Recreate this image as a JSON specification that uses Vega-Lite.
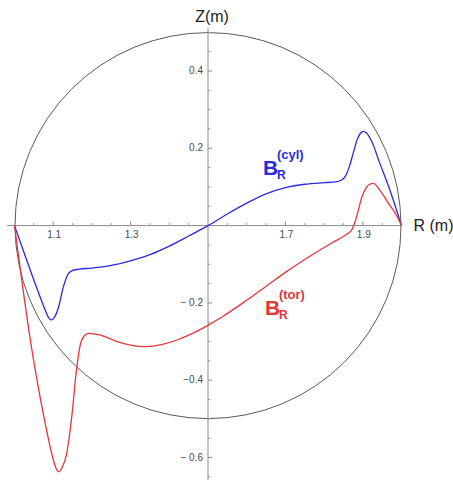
{
  "$schema": "https://vega.github.io/schema/vega-lite/v6.json",
  "width": 453,
  "height": 480,
  "autosize": "none",
  "padding": 0,
  "background": "white",
  "config": {"view": {"stroke": null}, "font": "Liberation Sans"},
  "datasets": {
    "curves": [
      {"series": "cyl", "R": 1.000, "Z": 0.000},
      {"series": "cyl", "R": 1.030, "Z": -0.085},
      {"series": "cyl", "R": 1.060, "Z": -0.168},
      {"series": "cyl", "R": 1.079, "Z": -0.218},
      {"series": "cyl", "R": 1.087, "Z": -0.236},
      {"series": "cyl", "R": 1.095, "Z": -0.244},
      {"series": "cyl", "R": 1.104, "Z": -0.236},
      {"series": "cyl", "R": 1.113, "Z": -0.214},
      {"series": "cyl", "R": 1.126, "Z": -0.160},
      {"series": "cyl", "R": 1.137, "Z": -0.128},
      {"series": "cyl", "R": 1.148, "Z": -0.117},
      {"series": "cyl", "R": 1.165, "Z": -0.113},
      {"series": "cyl", "R": 1.200, "Z": -0.110},
      {"series": "cyl", "R": 1.250, "Z": -0.103},
      {"series": "cyl", "R": 1.300, "Z": -0.091},
      {"series": "cyl", "R": 1.350, "Z": -0.075},
      {"series": "cyl", "R": 1.400, "Z": -0.053},
      {"series": "cyl", "R": 1.450, "Z": -0.027},
      {"series": "cyl", "R": 1.500, "Z": 0.000},
      {"series": "cyl", "R": 1.550, "Z": 0.030},
      {"series": "cyl", "R": 1.600, "Z": 0.058},
      {"series": "cyl", "R": 1.650, "Z": 0.082},
      {"series": "cyl", "R": 1.700, "Z": 0.098},
      {"series": "cyl", "R": 1.750, "Z": 0.107},
      {"series": "cyl", "R": 1.800, "Z": 0.111},
      {"series": "cyl", "R": 1.830, "Z": 0.113},
      {"series": "cyl", "R": 1.845, "Z": 0.118},
      {"series": "cyl", "R": 1.855, "Z": 0.128},
      {"series": "cyl", "R": 1.865, "Z": 0.152},
      {"series": "cyl", "R": 1.876, "Z": 0.190},
      {"series": "cyl", "R": 1.886, "Z": 0.224},
      {"series": "cyl", "R": 1.894, "Z": 0.239},
      {"series": "cyl", "R": 1.901, "Z": 0.244},
      {"series": "cyl", "R": 1.909, "Z": 0.240},
      {"series": "cyl", "R": 1.922, "Z": 0.220},
      {"series": "cyl", "R": 1.944, "Z": 0.161},
      {"series": "cyl", "R": 1.970, "Z": 0.092},
      {"series": "cyl", "R": 2.000, "Z": 0.000},
      {"series": "tor", "R": 1.000, "Z": 0.000},
      {"series": "tor", "R": 1.020, "Z": -0.150},
      {"series": "tor", "R": 1.040, "Z": -0.290},
      {"series": "tor", "R": 1.060, "Z": -0.410},
      {"series": "tor", "R": 1.080, "Z": -0.515},
      {"series": "tor", "R": 1.095, "Z": -0.585},
      {"series": "tor", "R": 1.105, "Z": -0.622},
      {"series": "tor", "R": 1.114, "Z": -0.637},
      {"series": "tor", "R": 1.123, "Z": -0.626},
      {"series": "tor", "R": 1.135, "Z": -0.589},
      {"series": "tor", "R": 1.148, "Z": -0.494},
      {"series": "tor", "R": 1.160, "Z": -0.375},
      {"series": "tor", "R": 1.168, "Z": -0.318},
      {"series": "tor", "R": 1.177, "Z": -0.290},
      {"series": "tor", "R": 1.192, "Z": -0.279},
      {"series": "tor", "R": 1.220, "Z": -0.283},
      {"series": "tor", "R": 1.260, "Z": -0.298},
      {"series": "tor", "R": 1.300, "Z": -0.309},
      {"series": "tor", "R": 1.336, "Z": -0.313},
      {"series": "tor", "R": 1.380, "Z": -0.308},
      {"series": "tor", "R": 1.420, "Z": -0.296},
      {"series": "tor", "R": 1.460, "Z": -0.279},
      {"series": "tor", "R": 1.500, "Z": -0.258},
      {"series": "tor", "R": 1.540, "Z": -0.234},
      {"series": "tor", "R": 1.580, "Z": -0.207},
      {"series": "tor", "R": 1.620, "Z": -0.179},
      {"series": "tor", "R": 1.660, "Z": -0.150},
      {"series": "tor", "R": 1.700, "Z": -0.121},
      {"series": "tor", "R": 1.740, "Z": -0.094},
      {"series": "tor", "R": 1.780, "Z": -0.069},
      {"series": "tor", "R": 1.820, "Z": -0.045},
      {"series": "tor", "R": 1.860, "Z": -0.021},
      {"series": "tor", "R": 1.872, "Z": -0.010},
      {"series": "tor", "R": 1.880, "Z": 0.010},
      {"series": "tor", "R": 1.888, "Z": 0.038},
      {"series": "tor", "R": 1.897, "Z": 0.072},
      {"series": "tor", "R": 1.908, "Z": 0.097},
      {"series": "tor", "R": 1.918, "Z": 0.107},
      {"series": "tor", "R": 1.927, "Z": 0.109},
      {"series": "tor", "R": 1.944, "Z": 0.092},
      {"series": "tor", "R": 1.966, "Z": 0.058},
      {"series": "tor", "R": 1.988, "Z": 0.025},
      {"series": "tor", "R": 2.000, "Z": 0.000}
    ],
    "rMajor": [{"R": 1.1}, {"R": 1.3}, {"R": 1.7}, {"R": 1.9}],
    "rMinor": [
      {"R": 1.05}, {"R": 1.15}, {"R": 1.2}, {"R": 1.25}, {"R": 1.35}, {"R": 1.4}, {"R": 1.45},
      {"R": 1.55}, {"R": 1.6}, {"R": 1.65}, {"R": 1.75}, {"R": 1.8}, {"R": 1.85}, {"R": 1.95}
    ],
    "zMajor": [
      {"Z": 0.4, "label": "0.4"}, {"Z": 0.2, "label": "0.2"}, {"Z": -0.2, "label": "− 0.2"},
      {"Z": -0.4, "label": "−0.4"}, {"Z": -0.6, "label": "− 0.6"}
    ],
    "zMinor": [
      {"Z": 0.5}, {"Z": 0.45}, {"Z": 0.35}, {"Z": 0.3}, {"Z": 0.25}, {"Z": 0.15}, {"Z": 0.1}, {"Z": 0.05},
      {"Z": -0.05}, {"Z": -0.1}, {"Z": -0.15}, {"Z": -0.25}, {"Z": -0.3}, {"Z": -0.35},
      {"Z": -0.45}, {"Z": -0.5}, {"Z": -0.55}, {"Z": -0.65}
    ],
    "seriesLabels": [
      {"series": "cyl", "sup": "(cyl)", "R": 1.642, "Z": 0.131},
      {"series": "tor", "sup": "(tor)", "R": 1.647, "Z": -0.231}
    ]
  },
  "layer": [
    {
      "description": "bounding circle of radius 0.5 m around R = 1.5 m",
      "data": {"values": [{"R": 1.5, "Z": 0}]},
      "mark": {"type": "point", "shape": "circle", "filled": false, "size": 149000, "stroke": "#5a5a5a", "strokeWidth": 1, "opacity": 1},
      "encoding": {
        "x": {"field": "R", "type": "quantitative", "scale": {"domain": [0.96253, 2.13307], "nice": false, "zero": false}, "axis": null},
        "y": {"field": "Z", "type": "quantitative", "scale": {"domain": [-0.6582, 0.5837], "nice": false, "zero": false}, "axis": null}
      }
    },
    {
      "description": "R axis line",
      "data": {"values": [{}]},
      "mark": {"type": "rule", "stroke": "#8a8a8a", "strokeWidth": 1},
      "encoding": {"x": {"datum": 0.981}, "x2": {"datum": 2.0}, "y": {"datum": 0}}
    },
    {
      "description": "Z axis line",
      "data": {"values": [{}]},
      "mark": {"type": "rule", "stroke": "#8a8a8a", "strokeWidth": 1},
      "encoding": {"x": {"datum": 1.5}, "y": {"datum": -0.658}, "y2": {"datum": 0.511}}
    },
    {
      "data": {"name": "rMajor"},
      "mark": {"type": "tick", "orient": "vertical", "size": 4, "thickness": 1, "yOffset": -2, "color": "#8a8a8a", "opacity": 1},
      "encoding": {"x": {"field": "R", "type": "quantitative"}, "y": {"datum": 0}}
    },
    {
      "data": {"name": "rMinor"},
      "mark": {"type": "tick", "orient": "vertical", "size": 2.5, "thickness": 1, "yOffset": -1.25, "color": "#9a9a9a", "opacity": 1},
      "encoding": {"x": {"field": "R", "type": "quantitative"}, "y": {"datum": 0}}
    },
    {
      "data": {"name": "zMajor"},
      "mark": {"type": "tick", "orient": "horizontal", "size": 4, "thickness": 1, "xOffset": 2, "color": "#8a8a8a", "opacity": 1},
      "encoding": {"y": {"field": "Z", "type": "quantitative"}, "x": {"datum": 1.5}}
    },
    {
      "data": {"name": "zMinor"},
      "mark": {"type": "tick", "orient": "horizontal", "size": 2.5, "thickness": 1, "xOffset": 1.25, "color": "#9a9a9a", "opacity": 1},
      "encoding": {"y": {"field": "Z", "type": "quantitative"}, "x": {"datum": 1.5}}
    },
    {
      "data": {"name": "rMajor"},
      "mark": {"type": "text", "align": "center", "baseline": "middle", "dy": 9, "dx": 1, "fontSize": 10, "color": "#4a4a4a"},
      "encoding": {"x": {"field": "R", "type": "quantitative"}, "y": {"datum": 0}, "text": {"field": "R", "type": "quantitative", "format": ".1f"}}
    },
    {
      "data": {"name": "zMajor"},
      "mark": {"type": "text", "align": "right", "baseline": "middle", "dx": -5, "fontSize": 10, "color": "#4a4a4a"},
      "encoding": {"y": {"field": "Z", "type": "quantitative"}, "x": {"datum": 1.5}, "text": {"field": "label"}}
    },
    {
      "data": {"values": [{"title": "Z(m)"}]},
      "mark": {"type": "text", "align": "center", "baseline": "alphabetic", "dx": 4, "fontSize": 16, "color": "#222222"},
      "encoding": {"x": {"datum": 1.5}, "y": {"datum": 0.527}, "text": {"field": "title"}}
    },
    {
      "data": {"values": [{"title": "R (m)"}]},
      "mark": {"type": "text", "align": "left", "baseline": "middle", "dx": 12, "fontSize": 16, "color": "#222222"},
      "encoding": {"x": {"datum": 2.0}, "y": {"datum": 0}, "text": {"field": "title"}}
    },
    {
      "data": {"name": "curves"},
      "mark": {"type": "line", "interpolate": "monotone", "strokeWidth": 1.3},
      "encoding": {
        "x": {"field": "R", "type": "quantitative"},
        "y": {"field": "Z", "type": "quantitative"},
        "color": {"field": "series", "type": "nominal", "scale": {"domain": ["cyl", "tor"], "range": ["#2a2ae0", "#e8343a"]}, "legend": null}
      }
    },
    {
      "data": {"name": "seriesLabels"},
      "mark": {"type": "text", "align": "left", "baseline": "alphabetic", "fontSize": 21, "fontWeight": "bold", "text": "B"},
      "encoding": {
        "x": {"field": "R", "type": "quantitative"},
        "y": {"field": "Z", "type": "quantitative"},
        "color": {"field": "series", "type": "nominal", "legend": null}
      }
    },
    {
      "data": {"name": "seriesLabels"},
      "mark": {"type": "text", "align": "left", "baseline": "alphabetic", "fontSize": 12, "fontWeight": "bold", "text": "R", "dx": 14, "dy": 4},
      "encoding": {
        "x": {"field": "R", "type": "quantitative"},
        "y": {"field": "Z", "type": "quantitative"},
        "color": {"field": "series", "type": "nominal", "legend": null}
      }
    },
    {
      "data": {"name": "seriesLabels"},
      "mark": {"type": "text", "align": "left", "baseline": "alphabetic", "fontSize": 13, "fontWeight": "bold", "dx": 14, "dy": -16},
      "encoding": {
        "x": {"field": "R", "type": "quantitative"},
        "y": {"field": "Z", "type": "quantitative"},
        "text": {"field": "sup"},
        "color": {"field": "series", "type": "nominal", "legend": null}
      }
    }
  ]
}
